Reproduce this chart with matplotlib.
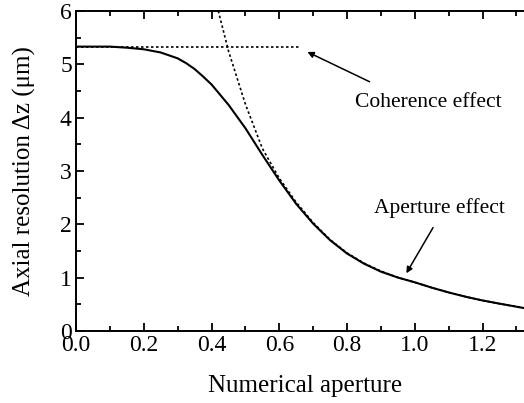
import numpy as np
import matplotlib.pyplot as plt
from matplotlib.ticker import MultipleLocator

plt.rcParams['font.family'] = ['Liberation Serif', 'DejaVu Serif']

# Combined curve (solid)
na_total = [0.0, 0.1, 0.15, 0.2, 0.25, 0.3, 0.325, 0.35, 0.375, 0.4, 0.45,
            0.5, 0.55, 0.6, 0.65, 0.7, 0.75, 0.8, 0.85, 0.9, 0.95, 1.0,
            1.05, 1.1, 1.15, 1.2, 1.25, 1.32]
dz_total = [5.33, 5.33, 5.31, 5.28, 5.22, 5.11, 5.02, 4.91, 4.77, 4.62, 4.24,
            3.80, 3.30, 2.82, 2.38, 2.01, 1.70, 1.45, 1.26, 1.11, 1.00, 0.91,
            0.81, 0.72, 0.64, 0.57, 0.51, 0.43]

# Aperture limit (dotted)
na_aper = [0.42, 0.45, 0.5, 0.55, 0.6, 0.65, 0.7, 0.75, 0.8, 0.85, 0.9,
           0.95, 1.0, 1.05, 1.1, 1.15, 1.2, 1.25, 1.32]
dz_aper = [6.0, 5.25, 4.25, 3.42, 2.86, 2.41, 2.03, 1.71, 1.46, 1.27, 1.12,
           1.00, 0.91, 0.81, 0.72, 0.64, 0.57, 0.51, 0.43]

# Coherence limit (dotted)
na_coh = [0.0, 0.66]
dz_coh = [5.33, 5.33]

fig = plt.figure(figsize=(5.24, 4.03), dpi=100)
ax = fig.add_axes([0.145, 0.179, 0.873, 0.794])

ax.plot(na_total, dz_total, color='black', lw=1.5)
ax.plot(na_aper, dz_aper, color='black', lw=1.2, ls=(0, (1.5, 1.5)))
ax.plot(na_coh, dz_coh, color='black', lw=1.2, ls=(0, (1.5, 1.5)))

ax.set_xlim(0, 1.35)
ax.set_ylim(0, 6)
ax.xaxis.set_major_locator(MultipleLocator(0.2))
ax.xaxis.set_minor_locator(MultipleLocator(0.1))
ax.yaxis.set_major_locator(MultipleLocator(1))
ax.yaxis.set_minor_locator(MultipleLocator(0.5))
ax.xaxis.set_major_formatter(plt.FormatStrFormatter('%.1f'))
ax.tick_params(which='both', direction='in', top=True, right=False,
               labelsize=17, width=1.3, pad=3)
ax.tick_params(which='major', length=6)
ax.tick_params(which='minor', length=3.5)
for s in ax.spines.values():
    s.set_linewidth(1.4)
ax.spines['right'].set_visible(False)

ax.set_xlabel('Numerical aperture', fontsize=18, labelpad=14)
ax.set_ylabel('Axial resolution \u0394z (\u03bcm)', fontsize=18, labelpad=17)

ax.annotate('Coherence effect', xy=(0.683, 5.23), xytext=(0.823, 4.28),
            fontsize=15.5, va='center', ha='left',
            arrowprops=dict(arrowstyle='-|>', color='black', lw=1.1,
                            mutation_scale=9, shrinkA=0, shrinkB=0,
                            relpos=(0.1, 1.6)))
ax.annotate('Aperture effect', xy=(0.975, 1.08), xytext=(0.88, 2.31),
            fontsize=15.5, va='center', ha='left',
            arrowprops=dict(arrowstyle='-|>', color='black', lw=1.1,
                            mutation_scale=9, shrinkA=0, shrinkB=0,
                            relpos=(0.45, -0.5)))

fig.savefig('out.png', dpi=100)
